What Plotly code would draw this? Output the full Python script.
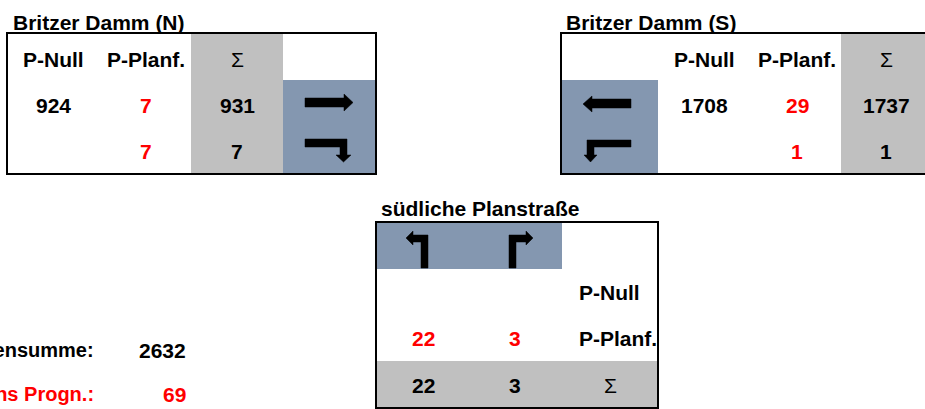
import plotly.graph_objects as go

# ---------------- data ----------------
row_labels = ["P-Null", "P-Planf.", "\u03a3"]

north_title = "Britzer Damm (N)"
north_p_null = [924, None]
north_p_planf = [7, 7]
north_sum = [931, 7]

south_title = "Britzer Damm (S)"
south_p_null = [1708, None]
south_p_planf = [29, 1]
south_sum = [1737, 1]

plan_title = "südliche Planstraße"
plan_p_null = [None, None]
plan_p_planf = [22, 3]
plan_sum = [22, 3]

total_labels = ["Knotensumme:", "Zuwachs Plans Progn.:"]
total_values = [2632, 69]

# ---------------- style ----------------
BLUE = "#8497B0"
GRAY = "#C0C0C0"
RED = "#FF0000"
BLACK = "#000000"
FONT = "Liberation Sans, Arial, sans-serif"
FS = 21

fig = go.Figure()
fig.add_trace(go.Scatter(x=[0, 925], y=[0, 409], mode="markers",
                         marker=dict(opacity=0), hoverinfo="skip", showlegend=False))

shapes = []
ann = []


def rect(x0, y0, x1, y1, fill=None, line=None, lw=0):
    shapes.append(dict(type="rect", xref="x", yref="y", x0=x0, y0=y0, x1=x1, y1=y1,
                       fillcolor=fill if fill else "rgba(0,0,0,0)",
                       line=dict(color=line if line else "rgba(0,0,0,0)", width=lw)))


def poly(pts):
    d = "M" + " L".join(f"{x},{y}" for x, y in pts) + " Z"
    shapes.append(dict(type="path", xref="x", yref="y", path=d,
                       fillcolor=BLACK, line=dict(color=BLACK, width=0.5)))


def txt(x, y, s, color=BLACK, anchor="center", size=FS, bold=True):
    if s is None:
        return
    s = str(s)
    ann.append(dict(x=x, y=y, xref="x", yref="y", text=f"<b>{s}</b>" if bold else s,
                    showarrow=False, xanchor=anchor, yanchor="middle",
                    font=dict(family=FONT, size=size, color=color)))


# ---- fills ----
rect(191, 33, 283, 174, fill=GRAY)          # N sum column
rect(283, 80, 376, 174, fill=BLUE)          # N arrows
rect(841, 33, 940, 174, fill=GRAY)          # S sum column
rect(561, 80, 658, 174, fill=BLUE)          # S arrows
rect(376, 222, 562, 269, fill=BLUE)         # plan arrows
rect(376, 361, 658, 408, fill=GRAY)         # plan sum row

# ---- borders ----
rect(7, 33, 376, 174, line=BLACK, lw=2)
rect(561, 33, 945, 174, line=BLACK, lw=2)
rect(376, 222, 658, 408, line=BLACK, lw=2)

# ---- arrows ----
poly([(305, 98), (344, 98), (344, 94), (353, 102.5), (344, 111), (344, 107), (305, 107)])
poly([(305, 139), (347, 139), (347, 155), (351, 155), (343.5, 162), (336, 155), (340, 155),
      (340, 147), (305, 147)])
poly([(631, 99), (592, 99), (592, 96), (583, 104), (592, 112), (592, 108), (631, 108)])
poly([(631, 140), (587, 140), (587, 155), (584, 155), (590.5, 162), (597, 155), (594, 155),
      (594, 147), (631, 147)])
poly([(428, 268), (428, 235), (413, 235), (413, 231), (406, 238), (413, 245), (413, 242),
      (421, 242), (421, 268)])
poly([(509, 268), (509, 235), (526, 235), (526, 231), (533, 238), (526, 245), (526, 242),
      (516, 242), (516, 268)])

# ---- titles ----
txt(11, 22, north_title, anchor="left")
txt(564, 22, south_title, anchor="left")
txt(379, 208, plan_title, anchor="left")

# ---- north table ----
n_cols = [53, 146, 237]
n_rows = [105, 151]
for cx, lab in zip(n_cols, row_labels):
    txt(cx, 59, lab, bold=(lab != "\u03a3"))
for i, ry in enumerate(n_rows):
    txt(n_cols[0], ry, north_p_null[i])
    txt(n_cols[1], ry, north_p_planf[i], color=RED)
    txt(n_cols[2], ry, north_sum[i])

# ---- south table ----
s_cols = [704, 797, 886]
for cx, lab in zip(s_cols, row_labels):
    txt(cx, 59, lab, bold=(lab != "\u03a3"))
for i, ry in enumerate(n_rows):
    txt(s_cols[0], ry, south_p_null[i])
    txt(s_cols[1], ry, south_p_planf[i], color=RED)
    txt(s_cols[2], ry, south_sum[i])

# ---- plan table ----
p_cols = [423, 515]
p_rows = [292, 338, 385]
txt(577, p_rows[0], row_labels[0], anchor="left")
txt(577, p_rows[1], row_labels[1], anchor="left")
txt(610, p_rows[2], row_labels[2], bold=False)
for i, cx in enumerate(p_cols):
    txt(cx, p_rows[0], plan_p_null[i])
    txt(cx, p_rows[1], plan_p_planf[i], color=RED)
    txt(cx, p_rows[2], plan_sum[i])

# ---- totals (left part runs off the page, as in the original) ----
tot_rows = [350, 394]
tot_colors = [BLACK, RED]
for lab, val, ry, c in zip(total_labels, total_values, tot_rows, tot_colors):
    txt(96, ry, lab, color=c, anchor="right", size=20)
    txt(188, ry, val, color=c, anchor="right", size=21)

fig.update_layout(
    width=925, height=409,
    margin=dict(l=0, r=0, t=0, b=0),
    paper_bgcolor="white", plot_bgcolor="white",
    xaxis=dict(range=[0, 925], visible=False, fixedrange=True),
    yaxis=dict(range=[409, 0], visible=False, fixedrange=True),
    shapes=shapes, annotations=ann, showlegend=False,
    hovermode=False,
)

fig.write_html("out.html",
               config={"displayModeBar": False, "staticPlot": True},
               post_script="document.body.style.margin='0';document.body.style.overflow='hidden';")
